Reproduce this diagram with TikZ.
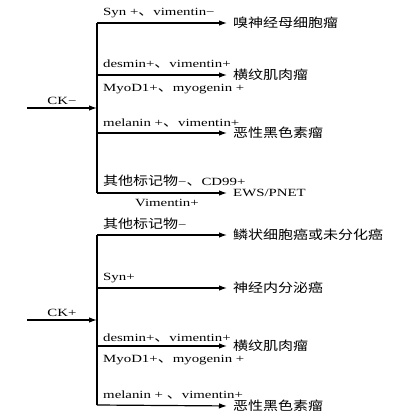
\documentclass[tikz,border=0pt]{standalone}
\usepackage{fontspec}
\setmainfont{Liberation Serif}[FakeStretch=1.35]
\newfontfamily\cjk{Noto Sans CJK SC}[FakeStretch=1.2]
\newcommand{\zh}[1]{{\cjk\fontsize{12.5pt}{14pt}\selectfont #1}}
\usetikzlibrary{arrows.meta}
\tikzstyle{markerLabel}=[anchor=base west, inner sep=0pt, font=\fontsize{11pt}{13pt}\selectfont]
\tikzstyle{tumourNode}=[anchor=west, inner sep=0pt, font=\fontsize{11pt}{13pt}\selectfont]
\tikzstyle{trunkLine}=[line width=1.2pt]
\tikzstyle{branchArrow}=[line width=1.2pt, shorten >=6pt, -{Latex[length=8pt,width=5.5pt]}]

\begin{document}
\begin{tikzpicture}[x=1pt, y=-1pt]
    \useasboundingbox (0,0) rectangle (420,420);

    % CK- group
    \coordinate (ckNegIn) at (27,108);
    \coordinate (ckNegJoin) at (97,108);
    \coordinate (n1) at (97,23);
    \coordinate (n2) at (97,75);
    \coordinate (n3) at (97,133);
    \coordinate (n4) at (97,193);
    \node[tumourNode] (t1) at (233,23) {\zh{嗅神经母细胞瘤}};
    \node[tumourNode] (t2) at (233,75) {\zh{横纹肌肉瘤}};
    \node[tumourNode] (t3) at (233,133) {\zh{恶性黑色素瘤}};
    \node[tumourNode] (t4) at (233,193) {EWS/PNET};
    \node[markerLabel] (m1) at (103,16) {Syn +\zh{、}vimentin−};
    \node[markerLabel] (m2) at (103,67) {desmin+\zh{、}vimentin+};
    \node[markerLabel] (m2b) at (103,91) {MyoD1+\zh{、}myogenin +};
    \node[markerLabel] (m3) at (103,126) {melanin +\zh{、}vimentin+};
    \node[markerLabel] (m4) at (103,185) {\zh{其他标记物}−\zh{、}CD99+};
    \node[markerLabel] (m4b) at (135,206) {Vimentin+};

    % Arcs
    \draw[branchArrow, shorten >=0pt] (ckNegIn) -- node[midway, above=3pt, inner sep=0pt, font=\fontsize{11pt}{13pt}\selectfont] (ckNeg) {CK−} (ckNegJoin);
    \draw[trunkLine] (n1) -- (n4);
    \draw[branchArrow] (n1) -- (t1.west);
    \draw[branchArrow] (n2) -- (t2.west);
    \draw[branchArrow] (n3) -- (t3.west);
    \draw[branchArrow] (n4) -- (t4.west);

    % CK+ group
    \coordinate (ckPosIn) at (27,320);
    \coordinate (ckPosJoin) at (97,320);
    \coordinate (p1) at (97,235);
    \coordinate (p2) at (97,288);
    \coordinate (p3) at (97,346);
    \coordinate (p4) at (97,405);
    \node[tumourNode] (s1) at (233,235) {\zh{鳞状细胞癌或未分化癌}};
    \node[tumourNode] (s2) at (233,288) {\zh{神经内分泌癌}};
    \node[tumourNode] (s3) at (233,346) {\zh{横纹肌肉瘤}};
    \node[tumourNode] (s4) at (233,406) {\zh{恶性黑色素瘤}};
    \node[markerLabel] (q1) at (103,228) {\zh{其他标记物}−};
    \node[markerLabel] (q2) at (103,280) {Syn+};
    \node[markerLabel] (q3) at (103,341) {desmin+\zh{、}vimentin+};
    \node[markerLabel] (q3b) at (103,362) {MyoD1+\zh{、}myogenin +};
    \node[markerLabel] (q4) at (103,398) {melanin + \zh{、}vimentin+};

    % Arcs
    \draw[branchArrow, shorten >=0pt] (ckPosIn) -- node[midway, above=3pt, inner sep=0pt, font=\fontsize{11pt}{13pt}\selectfont] (ckPos) {CK+} (ckPosJoin);
    \draw[trunkLine] (p1) -- (p4);
    \draw[branchArrow] (p1) -- (s1.west);
    \draw[branchArrow] (p2) -- (s2.west);
    \draw[branchArrow] (p3) -- (s3.west);
    \draw[branchArrow] (p4) -- (s4.west);

\end{tikzpicture}
\end{document}
